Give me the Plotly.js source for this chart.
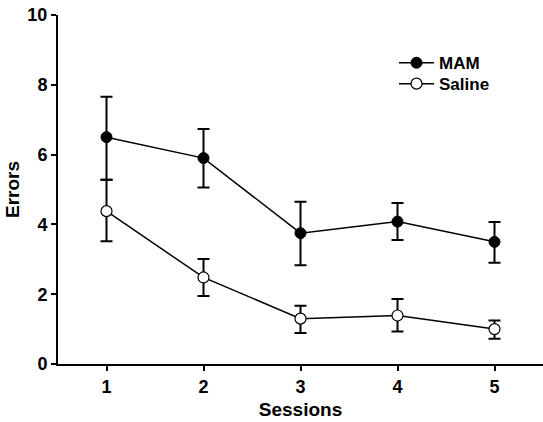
<!DOCTYPE html>
<html><head><meta charset="utf-8">
<script src="https://cdn.plot.ly/plotly-3.0.1.min.js"></script>
<style>body{margin:0;background:#fff}#c{width:543px;height:422px}</style>
</head><body><div id="c"></div>
<script>
const sessions = [1, 2, 3, 4, 5];
const mamMean = [6.5, 5.9, 3.75, 4.08, 3.5];
const mamUpper = [1.16, 0.83, 0.9, 0.53, 0.57];
const mamLower = [1.22, 0.84, 0.92, 0.53, 0.6];
const salMean = [4.38, 2.48, 1.3, 1.39, 1.0];
const salUpper = [0.9, 0.53, 0.37, 0.47, 0.25];
const salLower = [0.86, 0.53, 0.41, 0.46, 0.28];

const F = 'Liberation Sans, Arial, sans-serif';
const traces = [
  {x: sessions, y: mamMean, name: 'MAM', type: 'scatter', mode: 'lines+markers',
   legend: 'legend',
   line: {color: '#000', width: 1.5},
   marker: {size: 11, color: '#000', line: {color: '#000', width: 1}},
   error_y: {type: 'data', symmetric: false, array: mamUpper, arrayminus: mamLower, color: '#000', thickness: 2, width: 6}},
  {x: sessions, y: salMean, name: 'Saline', type: 'scatter', mode: 'lines+markers',
   legend: 'legend2',
   line: {color: '#000', width: 1.5},
   marker: {size: 11, color: '#fff', line: {color: '#000', width: 1.2}},
   error_y: {type: 'data', symmetric: false, array: salUpper, arrayminus: salLower, color: '#000', thickness: 2, width: 6}}
];
const legFont = {family: F, size: 17, weight: 'bold'};
const layout = {
  width: 543, height: 422,
  margin: {l: 58, r: 0, t: 15, b: 58},
  paper_bgcolor: '#fff', plot_bgcolor: '#fff',
  font: {family: F, color: '#000'},
  showlegend: true,
  legend: {x: 0.6928, y: 0.862, xanchor: 'left', yanchor: 'middle', bgcolor: 'rgba(0,0,0,0)',
           font: legFont, itemwidth: 35},
  legend2: {x: 0.6928, y: 0.802, xanchor: 'left', yanchor: 'middle', bgcolor: 'rgba(0,0,0,0)',
           font: legFont, itemwidth: 35},
  xaxis: {range: [0.5, 5.5], tickvals: sessions, ticktext: ['1','2','3','4','5'],
          showgrid: false, zeroline: false, showline: true, linecolor: '#000', linewidth: 2,
          ticks: 'outside', ticklen: 5, tickwidth: 2, tickcolor: '#000',
          tickfont: {family: F, size: 18, weight: 'bold'},
          title: {text: 'Sessions', font: {family: F, size: 19, weight: 'bold'}, standoff: 7}},
  yaxis: {range: [0, 10], tickvals: [0, 2, 4, 6, 8, 10], automargin: true,
          showgrid: false, zeroline: false, showline: true, linecolor: '#000', linewidth: 2,
          ticks: 'outside', ticklen: 5, tickwidth: 2, tickcolor: '#000',
          tickfont: {family: F, size: 18, weight: 'bold'},
          title: {text: 'Errors', font: {family: F, size: 19, weight: 'bold'}, standoff: 3}}
};
Plotly.newPlot('c', traces, layout, {displayModeBar: false, staticPlot: true});
</script></body></html>
